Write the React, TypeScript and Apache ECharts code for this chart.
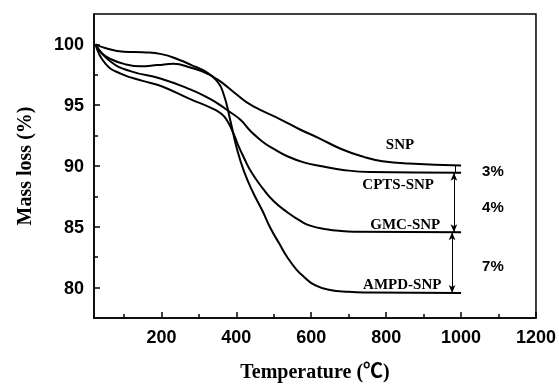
import React, { useEffect, useRef } from "react";
import * as echarts from "echarts";

const snpT = [24, 50, 100, 150, 200, 250, 280, 310, 340, 360, 400, 440, 520, 570, 620, 680, 740, 790, 860, 1000];
const snpMass = [100.0, 99.7, 99.4, 99.35, 99.2, 98.7, 98.3, 97.9, 97.3, 96.9, 95.9, 95.0, 93.8, 93.0, 92.3, 91.4, 90.75, 90.4, 90.2, 90.05];

const cptsT = [24, 64, 117, 197, 277, 331, 357, 380, 411, 437, 470, 500, 536, 580, 624, 680, 757, 1000];
const cptsMass = [100.0, 98.6, 97.8, 97.2, 96.3, 95.5, 95.0, 94.5, 93.8, 92.9, 92.0, 91.4, 90.8, 90.3, 90.0, 89.7, 89.5, 89.45];

const gmcT = [24, 51, 91, 150, 197, 277, 331, 360, 376, 392, 405, 420, 440, 472, 500, 536, 570, 597, 640, 680, 720, 1000];
const gmcMass = [100.0, 98.4, 97.6, 97.0, 96.6, 95.5, 94.8, 94.3, 93.7, 92.7, 91.7, 90.7, 89.5, 88.1, 87.1, 86.2, 85.5, 85.1, 84.8, 84.65, 84.6, 84.55];

const ampdT = [24, 40, 64, 100, 144, 190, 232, 277, 322, 345, 365, 385, 400, 420, 445, 470, 491, 515, 536, 560, 580, 610, 650, 700, 750, 1000];
const ampdMass = [100.0, 99.3, 98.8, 98.4, 98.2, 98.3, 98.4, 98.1, 97.6, 97.1, 96.0, 93.6, 91.6, 89.6, 87.8, 86.3, 84.9, 83.6, 82.5, 81.5, 80.9, 80.2, 79.8, 79.65, 79.6, 79.55];

const xMajorTicks = [200, 400, 600, 800, 1000, 1200];
const xMinorTicks = [100, 300, 500, 700, 900, 1100];
const yMajorTicks = [80, 85, 90, 95, 100];
const yMinorTicks = [82.5, 87.5, 92.5, 97.5];

const seriesNames = ["SNP", "CPTS-SNP", "GMC-SNP", "AMPD-SNP"];
const seriesLabelPos: [number, number][] = [[837, 91.8], [832, 88.55], [851, 85.2], [843, 80.3]];
const diffLabels = ["3%", "4%", "7%"];
const diffLabelPos: [number, number][] = [[1085, 89.6], [1085, 86.7], [1085, 81.85]];

const zip = (t: number[], m: number[]) => t.map((v, i) => [v, m[i]]);

const SERIF = '"Liberation Serif", "Times New Roman", "Noto Sans CJK SC", serif';
const SANS = '"Liberation Sans", Arial, sans-serif';

export default function App() {
  const ref = useRef<HTMLDivElement>(null);
  useEffect(() => {
    document.body.style.margin = "0";
    const chart = echarts.init(ref.current!, undefined, { renderer: "svg" });
    const lineStyle = { color: "#000", width: 2 };
    const mk = (name: string, data: number[][]) => ({
      name,
      type: "line",
      data,
      showSymbol: false,
      symbol: "none",
      smooth: 0.5,
      lineStyle,
      xAxisIndex: 0,
      yAxisIndex: 0,
      z: 3,
    });
    const baseX = {
      type: "value",
      min: 20,
      max: 1200,
      splitLine: { show: false },
    };
    const baseY = {
      type: "value",
      min: 77.5,
      max: 102.5,
      splitLine: { show: false },
    };
    const option: any = {
      animation: false,
      grid: { left: 94, right: 23, top: 14, bottom: 63, show: true, borderColor: "#000", borderWidth: 1.5, backgroundColor: "transparent" },
      xAxis: [
        {
          ...baseX,
          name: "Temperature (℃)",
          nameLocation: "middle",
          nameGap: 43,
          nameTextStyle: { fontFamily: SERIF, fontWeight: "bold", fontSize: 20, color: "#000" },
          axisLine: { lineStyle: { color: "#000", width: 1.5 } },
          axisTick: { inside: true, length: 6, customValues: xMajorTicks, lineStyle: { color: "#000", width: 1.5 } },
          axisLabel: { customValues: xMajorTicks, formatter: (v: number) => String(v), margin: 10, fontFamily: SANS, fontWeight: "bold", fontSize: 18, color: "#000" },
        },
        {
          ...baseX,
          axisLine: { show: false },
          axisTick: { inside: true, length: 4, customValues: xMinorTicks, lineStyle: { color: "#000", width: 1.5 } },
          axisLabel: { show: false },
          position: "bottom",
        },
      ],
      yAxis: [
        {
          ...baseY,
          name: "Mass loss (%)",
          nameLocation: "middle",
          nameGap: 60,
          nameTextStyle: { fontFamily: SERIF, fontWeight: "bold", fontSize: 20, color: "#000" },
          axisLine: { show: true, lineStyle: { color: "#000", width: 1.5 } },
          axisTick: { show: true, inside: true, length: 6, customValues: yMajorTicks, lineStyle: { color: "#000", width: 1.5 } },
          axisLabel: { customValues: yMajorTicks, formatter: (v: number) => String(v), margin: 10, fontFamily: SANS, fontWeight: "bold", fontSize: 18, color: "#000" },
        },
        {
          ...baseY,
          axisLine: { show: false },
          axisTick: { show: true, inside: true, length: 4, customValues: yMinorTicks, lineStyle: { color: "#000", width: 1.5 } },
          axisLabel: { show: false },
          position: "left",
        },
      ],
      series: [
        mk("SNP", zip(snpT, snpMass)),
        mk("CPTS-SNP", zip(cptsT, cptsMass)),
        mk("GMC-SNP", zip(gmcT, gmcMass)),
        mk("AMPD-SNP", zip(ampdT, ampdMass)),
        {
          type: "line",
          data: [],
          xAxisIndex: 0,
          yAxisIndex: 0,
          markLine: {
            silent: true,
            symbol: ["arrow", "arrow"],
            symbolSize: [5, 8],
            label: { show: false },
            lineStyle: { color: "#000", width: 1, type: "solid" },
            data: [
              [{ coord: [981, cptsMass[cptsMass.length - 1]] }, { coord: [981, gmcMass[gmcMass.length - 1]] }],
              [{ coord: [976, gmcMass[gmcMass.length - 1]] }, { coord: [976, ampdMass[ampdMass.length - 1]] }],
              [
                { coord: [984, snpMass[snpMass.length - 1]], symbol: "none" },
                { coord: [984, cptsMass[cptsMass.length - 1]], symbol: "none" },
              ],
            ],
          },
        },
      ],
    };
    chart.setOption(option);
    const texts: any[] = [];
    seriesNames.forEach((n, i) => {
      const p = chart.convertToPixel({ xAxisIndex: 0, yAxisIndex: 0 }, seriesLabelPos[i]);
      texts.push({
        type: "text",
        x: p[0],
        y: p[1],
        style: { text: n, fill: "#000", font: `bold 15px ${SERIF}`, align: "center", verticalAlign: "middle" },
      });
    });
    diffLabels.forEach((n, i) => {
      const p = chart.convertToPixel({ xAxisIndex: 0, yAxisIndex: 0 }, diffLabelPos[i]);
      texts.push({
        type: "text",
        x: p[0],
        y: p[1],
        style: { text: n, fill: "#000", font: `bold 15px ${SANS}`, align: "center", verticalAlign: "middle" },
      });
    });
    chart.setOption({ graphic: texts });
    return () => chart.dispose();
  }, []);
  return <div ref={ref} style={{ position: "fixed", left: 0, top: 0, width: 559, height: 386 }} />;
}
